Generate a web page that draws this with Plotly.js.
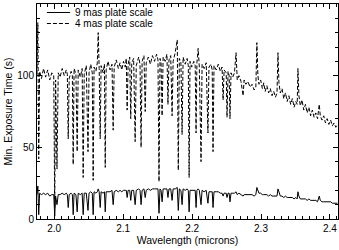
<!DOCTYPE html>
<html>
<head>
<meta charset="utf-8">
<script src="https://cdn.plot.ly/plotly-3.0.1.min.js"></script>
<style>html,body{margin:0;padding:0;background:#fff;}#chart{width:339px;height:250px;}</style>
</head>
<body>
<div id="chart"></div>
<script>
// Wavelength (microns)
var wavelength = [
1.975,1.9762,1.9775,1.9788,1.9815,1.9845,1.9875,1.9905,1.9935,1.9965,1.9993,2.0007,2.002,2.004,2.0058,2.0085,2.0115,2.0145,2.0175,2.019,
2.0203,2.0217,2.0245,2.0263,2.0275,2.0288,2.0315,2.0333,2.0348,2.0378,2.0405,2.042,2.0435,2.0465,2.049,2.0505,2.053,2.0552,2.0565,2.0578,
2.0605,2.0625,2.0638,2.0652,2.0667,2.068,2.071,2.0728,2.074,2.0753,2.078,2.081,2.0838,2.0855,2.087,2.09,2.093,2.0955,2.098,2.1005,
2.103,2.1045,2.1058,2.1072,2.1095,2.111,2.1125,2.1152,2.1174,2.119,2.1225,2.1245,2.126,2.1275,2.1302,2.132,2.1335,2.1365,2.1395,2.1425,
2.1455,2.1485,2.1505,2.152,2.1535,2.155,2.1565,2.158,2.161,2.1635,2.165,2.1665,2.169,2.171,2.1725,2.1755,2.1785,2.18,2.1815,2.1838,
2.1855,2.187,2.19,2.1928,2.1945,2.1957,2.197,2.1995,2.2025,2.2045,2.2058,2.207,2.2088,2.2105,2.213,2.2145,2.2175,2.2205,2.223,2.2245,
2.2275,2.2292,2.2304,2.2318,2.235,2.238,2.241,2.2435,2.245,2.2465,2.2495,2.2507,2.2522,2.2538,2.255,2.2565,2.259,2.2615,2.2638,2.2655,
2.268,2.271,2.274,2.2755,2.278,2.281,2.284,2.287,2.29,2.2925,2.294,2.2955,2.297,2.2995,2.302,2.304,2.306,2.3085,2.311,2.3135,
2.316,2.3185,2.321,2.3232,2.3246,2.326,2.328,2.3305,2.333,2.3355,2.338,2.3405,2.343,2.3455,2.348,2.3505,2.3525,2.3536,2.355,2.357,
2.3595,2.362,2.3645,2.367,2.3695,2.372,2.3745,2.377,2.3795,2.382,2.3845,2.386,2.3885,2.391,2.3935,2.396,2.3985,2.401,2.4035,2.406,
2.4085,2.411
];
// Minimum exposure time (s), 9 mas plate scale
var exp9mas = [
17,23,3,18,17,18,17,18,16,17,17,2,16,10,17,17,18,17,18,17,
8,17,18,17,3,18,17,5,18,17,18,3,18,18,6,18,19,18,3,19,
18,19,21,19,8,19,18,19,5,19,19,19,20,10,19,20,19,20,19,20,
20,20,15,20,20,13,20,20,10,20,21,20,10,20,21,15,20,21,20,21,
21,21,21,4,21,20,12,21,21,21,15,21,21,13,21,21,22,6,21,20,
10,21,20,21,20,5,20,20,20,20,8,20,21,20,10,20,19,20,11,19,
19,19,8,19,19,19,18,18,16,18,18,15,18,18,12,18,18,18,19,17,
18,17,16,17,17,17,17,17,16,17,22,19,18,18,17,17,17,17,16,17,
16,16,16,16,21,18,16,16,15,16,15,15,15,15,14,15,14,19,16,14,
14,14,14,13,14,13,13,13,13,12,16,13,12,12,12,12,12,12,11,11,
11,11
];
// Minimum exposure time (s), 4 mas plate scale
var exp4mas = [
101,137,42,103,98,105,99,104,97,102,100,8,97,35,102,99,105,100,104,101,
56,98,103,100,38,105,101,47,104,99,105,29,101,107,47,102,108,102,27,106,
103,109,130,105,56,107,102,108,36,104,110,104,108,62,106,111,105,109,104,110,
106,112,76,108,113,70,109,112,54,107,113,108,50,110,114,75,109,113,108,114,
110,115,111,26,112,109,72,113,110,115,80,111,114,72,110,116,125,34,112,109,
59,113,108,112,107,29,110,106,110,107,60,109,119,106,40,108,105,109,60,106,
108,104,47,107,104,108,103,106,83,104,102,71,103,100,70,102,99,102,116,97,
100,96,86,97,94,96,92,94,90,92,123,100,94,97,91,95,89,93,88,91,
86,89,85,88,116,95,88,91,84,88,82,86,80,84,78,82,80,105,86,79,
83,76,80,74,78,72,76,71,74,70,80,72,69,72,67,70,66,69,65,67,
64,66
];
var legendNames = ["9 mas plate scale", "4 mas plate scale"];
var xTicks = [2.0, 2.1, 2.2, 2.3, 2.4];
var yTicks = [0, 50, 100, 150];

var FONT = "Liberation Sans, Arial, Helvetica, sans-serif";
var traces = [
  {x: wavelength, y: exp9mas, type: "scatter", mode: "lines", name: legendNames[0],
   line: {color: "#000", width: 1}, showlegend: false},
  {x: wavelength, y: exp4mas, type: "scatter", mode: "lines", name: legendNames[1],
   line: {color: "#000", width: 1, dash: "4px,2px"}, showlegend: false}
];
var axisCommon = {
  showline: true, linecolor: "#000", linewidth: 1, mirror: "ticks",
  ticks: "inside", ticklen: 5, tickcolor: "#000", tickwidth: 1,
  showgrid: false, zeroline: false,
  tickfont: {family: FONT, size: 10, color: "#000"}
};
var layout = {
  width: 339, height: 250,
  margin: {l: 37, r: 1, t: 4, b: 31},
  paper_bgcolor: "#fff", plot_bgcolor: "#fff",
  font: {family: FONT, size: 10.5, color: "#000"},
  showlegend: false,
  xaxis: Object.assign({}, axisCommon, {
    range: [1.975, 2.4117], tickmode: "array", tickvals: xTicks,
    ticktext: xTicks.map(function(v){return v.toFixed(1);}),
    minor: {dtick: 0.01, tick0: 2.0, ticks: "inside", ticklen: 3, tickcolor: "#000", tickwidth: 1, showgrid: false},
    title: {text: "Wavelength (microns)", font: {family: FONT, size: 10.5, color: "#000"}, standoff: 2}
  }),
  yaxis: Object.assign({}, axisCommon, {
    range: [0, 150], tickmode: "array", tickvals: yTicks,
    minor: {dtick: 10, tick0: 0, ticks: "inside", ticklen: 3, tickcolor: "#000", tickwidth: 1, showgrid: false},
    title: {text: "Min. Exposure Time (s)", font: {family: FONT, size: 10.5, color: "#000"}, standoff: 2}
  }),
  shapes: [
    {type: "line", xref: "paper", yref: "paper", x0: 0.033, x1: 0.110, y0: 0.9605, y1: 0.9605,
     line: {color: "#000", width: 1}},
    {type: "line", xref: "paper", yref: "paper", x0: 0.033, x1: 0.110, y0: 0.9093, y1: 0.9093,
     line: {color: "#000", width: 1, dash: "4px,2px"}}
  ],
  annotations: [
    {xref: "paper", yref: "paper", x: 0.123, y: 0.9605, xanchor: "left", yanchor: "middle",
     text: legendNames[0], showarrow: false, borderpad: 0, font: {family: FONT, size: 10, color: "#000"}},
    {xref: "paper", yref: "paper", x: 0.123, y: 0.9093, xanchor: "left", yanchor: "middle",
     text: legendNames[1], showarrow: false, borderpad: 0, font: {family: FONT, size: 10, color: "#000"}}
  ]
};
Plotly.newPlot("chart", traces, layout, {staticPlot: true, displayModeBar: false});
</script>
</body>
</html>
